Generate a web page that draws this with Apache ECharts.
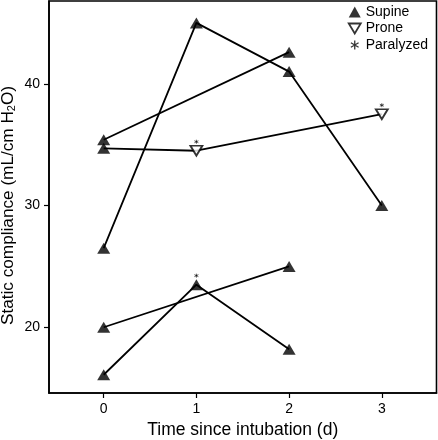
<!DOCTYPE html>
<html><head><meta charset="utf-8">
<script src="https://cdn.jsdelivr.net/npm/echarts@6/dist/echarts.min.js"></script>
<style>html,body{margin:0;padding:0;background:#fff}#c{width:438px;height:440px}</style>
</head><body><div id="c"></div>
<script>
var days = [0, 1, 2, 3];
var xTicks = [0, 1, 2, 3];
var yTicks = [20, 30, 40];
// one array per subject, values by day (null = not measured)
var subjectA = [26.5, 45.0, 41.0, 30.0];
var subjectB = [35.4, null, 42.6, null];
var subjectC = [34.7, 34.5, null, 37.5];
var subjectD = [20.0, null, 25.0, null];
var subjectE = [16.1, 23.5, 18.2, null];
// position per point: S = supine, P = prone
var posA = ['S', 'S', 'S', 'S'];
var posB = ['S', null, 'S', null];
var posC = ['S', 'P', null, 'P'];
var posD = ['S', null, 'S', null];
var posE = ['S', 'S', 'S', null];
// paralyzed flags
var parA = [0, 0, 0, 0];
var parB = [0, 0, 0, 0];
var parC = [0, 1, 0, 1];
var parD = [0, 0, 0, 0];
var parE = [0, 1, 0, 0];

var subjects = [subjectA, subjectB, subjectC, subjectD, subjectE];
var positions = [posA, posB, posC, posD, posE];
var paralyzed = [parA, parB, parC, parD, parE];

var supinePts = [], pronePts = [], parPts = [];
subjects.forEach(function (s, i) {
  s.forEach(function (v, j) {
    if (v == null) return;
    if (positions[i][j] === 'S') supinePts.push([days[j], v]);
    else pronePts.push([days[j], v]);
    if (paralyzed[i][j]) parPts.push([days[j], v]);
  });
});

var asterisk = 'path://M5,1 L5,9 M1.5,3 L8.5,7 M1.5,7 L8.5,3';
var asteriskLegend = 'path://M0,0 M10,10 M5,1 L5,9 M1.5,3 L8.5,7 M1.5,7 L8.5,3';
var proneSym = 'path://M0,0 L12,0 L6,10 Z';
var FONT = 'Liberation Sans, Arial, sans-serif';

var series = subjects.map(function (s, i) {
  var d = [];
  s.forEach(function (v, j) { if (v != null) d.push([days[j], v]); });
  return {
    name: 'subj' + i, type: 'line', data: d, symbol: 'none', silent: true,
    lineStyle: { color: '#000', width: 1.8 }, z: 2
  };
});
series.push({
  name: 'Supine', type: 'scatter', data: supinePts, symbol: 'triangle',
  symbolSize: [13, 11], itemStyle: { color: '#000' }, z: 5
});
series.push({
  name: 'Prone', type: 'scatter', data: pronePts, symbol: proneSym,
  symbolSize: [12, 10], itemStyle: { color: '#fff', borderColor: '#000', borderWidth: 1.8 }, z: 5
});
series.push({
  name: 'Paralyzed', type: 'scatter', data: parPts, symbol: asterisk,
  symbolSize: 4, symbolOffset: [0, -9],
  itemStyle: { color: '#000', borderColor: '#000', borderWidth: 0.8 }, z: 6
});

var chart = echarts.init(document.getElementById('c'));
chart.setOption({
  animation: false,
  textStyle: { fontFamily: FONT },
  grid: { left: 49, right: 1.5, top: 1, bottom: 47, show: true, borderColor: '#000', borderWidth: 1.6,
          outerBoundsMode: 'none', containLabel: false },
  legend: {
    orient: 'vertical', right: 5, top: 0, itemGap: 2.5, itemWidth: 12, itemHeight: 11,
    textStyle: { fontSize: 14, color: '#000', fontFamily: FONT },
    data: [
      { name: 'Supine', itemStyle: { color: '#000' } },
      { name: 'Prone', itemStyle: { color: '#fff', borderColor: '#000', borderWidth: 1.8 } },
      { name: 'Paralyzed', icon: asteriskLegend, itemStyle: { color: '#000', borderColor: '#000', borderWidth: 1.3 } }
    ]
  },
  xAxis: {
    type: 'value', min: -0.59, max: 3.59,
    name: 'Time since intubation (d)', nameLocation: 'middle', nameGap: 28, nameMoveOverlap: false,
    nameTextStyle: { fontSize: 17.5, color: '#000', verticalAlign: 'top' },
    axisLine: { onZero: false, lineStyle: { color: '#000', width: 1.6 } },
    axisTick: { show: true, length: 5, lineStyle: { color: '#000', width: 1.2 }, customValues: xTicks },
    axisLabel: { color: '#000', fontSize: 14, margin: 9, customValues: xTicks },
    splitLine: { show: false }
  },
  yAxis: {
    type: 'value', min: 14.6, max: 46.8,
    name: 'Static compliance (mL/cm H{sub|2}O)', nameLocation: 'middle', nameGap: 32, nameRotate: 90,
    nameMoveOverlap: false,
    nameTextStyle: { fontSize: 17.2, color: '#000', padding: [0, 17, 0, 0],
      rich: { sub: { fontSize: 11, color: '#000', verticalAlign: 'bottom', padding: [7, 0, 0, 0] } } },
    axisLine: { show: true, onZero: false, lineStyle: { color: '#000', width: 1.6 } },
    axisTick: { show: true, length: 5, lineStyle: { color: '#000', width: 1.2 }, customValues: yTicks },
    axisLabel: { color: '#000', fontSize: 14, margin: 9, customValues: yTicks },
    splitLine: { show: false }
  },
  series: series
});
</script></body></html>
